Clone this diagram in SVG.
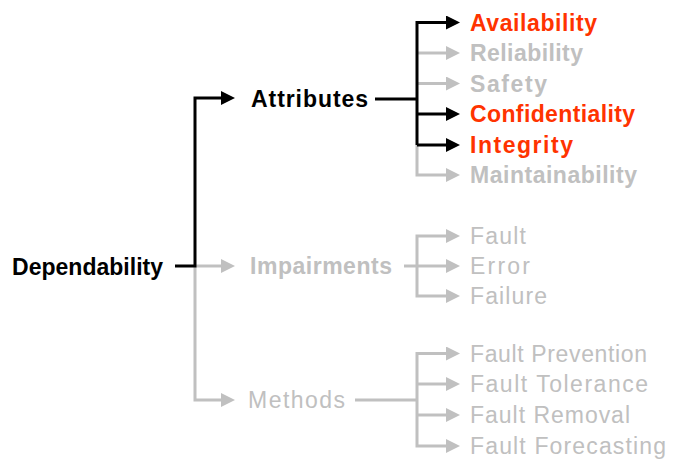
<svg xmlns="http://www.w3.org/2000/svg" width="673" height="459" viewBox="0 0 673 459">
  <style>
    text { font-family: "Liberation Sans", Arial, sans-serif; font-size: 23px; }
    .main { fill: #000; font-weight: bold; }
    .hi { fill: #ff3300; font-weight: bold; }
    .dim { fill: #c0c0c0; font-weight: bold; }
    .dimr { fill: #c0c0c0; }
    .k { fill: none; stroke: #000; stroke-width: 3; stroke-linejoin: miter; }
    .g { fill: none; stroke: #c0c0c0; stroke-width: 3; stroke-linejoin: miter; }
    .k.a { marker-end: url(#headK); }
    .g.a { marker-end: url(#headG); }
  </style>
  <defs>
    <marker id="headK" markerUnits="userSpaceOnUse" markerWidth="15" markerHeight="14" refX="0" refY="7" orient="auto">
      <path d="M0,0 L14,7 L0,14 z" fill="#000"/>
    </marker>
    <marker id="headG" markerUnits="userSpaceOnUse" markerWidth="15" markerHeight="14" refX="0" refY="7" orient="auto">
      <path d="M0,0 L14,7 L0,14 z" fill="#c0c0c0"/>
    </marker>
  </defs>

  <g id="connectors">
    <!-- grey branches first so black paths sit on top -->
    <path class="g a" d="M195,267 V400 H221"/>
    <path class="g a" d="M195,266 H221"/>
    <path class="g a" d="M417,145 V175 H446"/>
    <path class="g a" d="M417,53 H446"/>
    <path class="g a" d="M417,83.5 H446"/>
    <path class="g" d="M404,266 H417"/>
    <path class="g a" d="M417,266 V236 H446"/>
    <path class="g a" d="M417,266 V296 H446"/>
    <path class="g a" d="M417,266 H446"/>
    <path class="g" d="M355,400 H417"/>
    <path class="g a" d="M417,400 V353.5 H446"/>
    <path class="g a" d="M417,400 V446 H446"/>
    <path class="g a" d="M417,384 H446"/>
    <path class="g a" d="M417,415 H446"/>
    <!-- highlighted path -->
    <path class="k a" d="M175,266 H195 V98 H221"/>
    <path class="k" d="M375,99 H417"/>
    <path class="k a" d="M417,145 V22.5 H446"/>
    <path class="k a" d="M417,114 H446"/>
    <path class="k a" d="M417,145 H446"/>
  </g>

  <g id="dependability"><text class="main" x="12" y="275" textLength="151" lengthAdjust="spacing">Dependability</text></g>
  <g id="attributes"><text class="main" x="251" y="107" textLength="117" lengthAdjust="spacing">Attributes</text></g>
  <g id="impairments"><text class="dim" x="250" y="274" textLength="142" lengthAdjust="spacing">Impairments</text></g>
  <g id="methods"><text class="dimr" x="248" y="408" textLength="97" lengthAdjust="spacing">Methods</text></g>

  <g id="availability"><text class="hi" x="470" y="30.5" textLength="127" lengthAdjust="spacing">Availability</text></g>
  <g id="reliability"><text class="dim" x="470" y="61" textLength="113" lengthAdjust="spacing">Reliability</text></g>
  <g id="safety"><text class="dim" x="470" y="91.5" textLength="77" lengthAdjust="spacing">Safety</text></g>
  <g id="confidentiality"><text class="hi" x="470" y="122" textLength="165" lengthAdjust="spacing">Confidentiality</text></g>
  <g id="integrity"><text class="hi" x="470" y="152.5" textLength="103" lengthAdjust="spacing">Integrity</text></g>
  <g id="maintainability"><text class="dim" x="470" y="183" textLength="167" lengthAdjust="spacing">Maintainability</text></g>

  <g id="fault"><text class="dimr" x="470" y="244" textLength="56" lengthAdjust="spacing">Fault</text></g>
  <g id="error"><text class="dimr" x="470" y="274" textLength="60" lengthAdjust="spacing">Error</text></g>
  <g id="failure"><text class="dimr" x="470" y="304" textLength="77" lengthAdjust="spacing">Failure</text></g>

  <g id="fault-prevention"><text class="dimr" x="470" y="361.5" textLength="177" lengthAdjust="spacing">Fault Prevention</text></g>
  <g id="fault-tolerance"><text class="dimr" x="470" y="392" textLength="178" lengthAdjust="spacing">Fault Tolerance</text></g>
  <g id="fault-removal"><text class="dimr" x="470" y="423" textLength="160" lengthAdjust="spacing">Fault Removal</text></g>
  <g id="fault-forecasting"><text class="dimr" x="470" y="454" textLength="196" lengthAdjust="spacing">Fault Forecasting</text></g>
</svg>
